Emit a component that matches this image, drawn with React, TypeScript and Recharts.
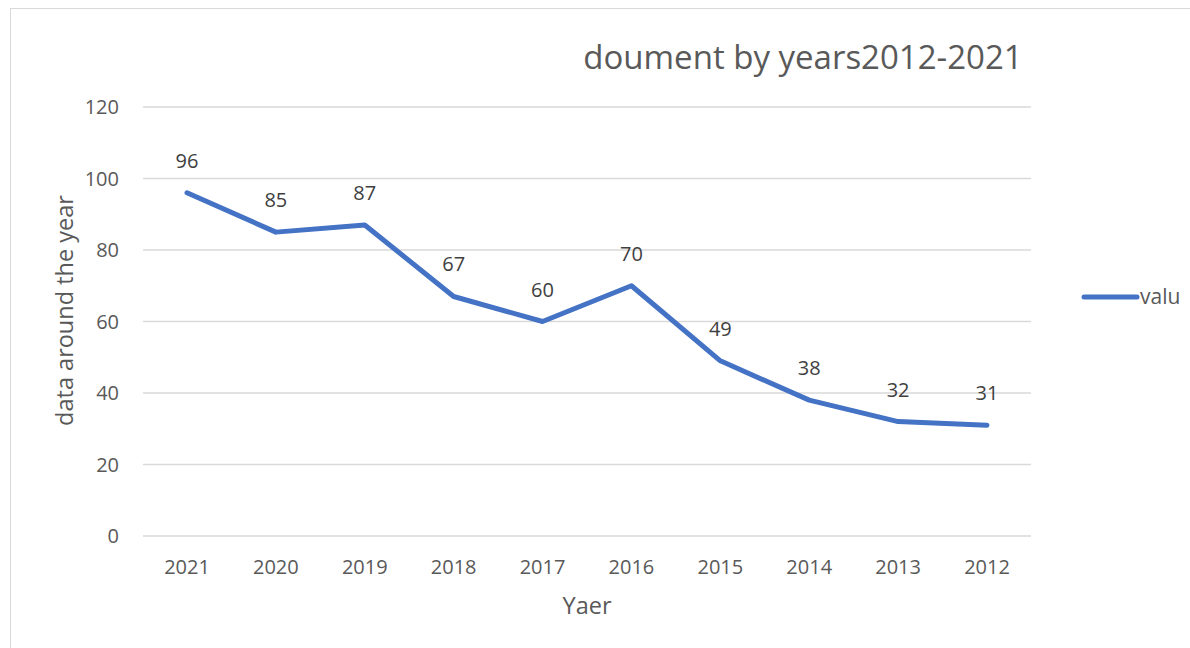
import React from "react";
import { LineChart, Line, XAxis, YAxis, CartesianGrid, LabelList, Legend } from "recharts";

const years = ["2021", "2020", "2019", "2018", "2017", "2016", "2015", "2014", "2013", "2012"];
const values = [96, 85, 87, 67, 60, 70, 49, 38, 32, 31];
const yTicks = [0, 20, 40, 60, 80, 100, 120];
const seriesName = "valu";
const title = "doument by years2012-2021";
const xTitle = "Yaer";
const yTitle = "data around the year";

const data = years.map((y, i) => ({ year: y, valu: values[i] }));

const FONT = "'Open Sans', 'Noto Sans', sans-serif";
const TXT = "#595959";
const BLUE = "#4472C4";

const LegendContent = () => (
  <svg width={104} height={28} style={{ overflow: "visible" }}>
    <line x1={3} y1={13} x2={56} y2={13} stroke={BLUE} strokeWidth={5} strokeLinecap="round" />
    <text x={59} y={20} fill={TXT} fontSize={21} fontFamily={FONT}>{seriesName}</text>
  </svg>
);

export default function App() {
  return (
    <div style={{ position: "fixed", left: 0, top: 0, width: 1190, height: 648, background: "#fff", overflow: "hidden" }}>
      <div style={{ position: "absolute", left: 10, top: 8, width: 1200, height: 700, border: "1.5px solid #D9D9D9", boxSizing: "border-box" }} />
      <div style={{ position: "absolute", left: 0, top: 35, width: 1606, textAlign: "center", fontFamily: FONT, fontSize: 33, lineHeight: "44px", color: TXT, whiteSpace: "nowrap" }}>{title}</div>
      <div style={{ position: "absolute", left: 0, top: 0 }}>
        <LineChart width={1190} height={648} data={data} margin={{ top: 107, right: 49, bottom: 0, left: 0 }}>
          <CartesianGrid vertical={false} stroke="#D9D9D9" strokeWidth={1.5} />
          <XAxis
            dataKey="year"
            axisLine={false}
            tickLine={false}
            tickSize={0}
            tickMargin={24}
            padding={{ left: 44, right: 44 }}
            tick={{ fill: TXT, fontSize: 20, fontFamily: FONT }}
            height={112}
            label={{ value: xTitle, position: "insideTop", dy: 56, fill: TXT, fontSize: 23.5, fontFamily: FONT }}
          />
          <YAxis
            domain={[0, 120]}
            ticks={yTicks}
            width={143}
            axisLine={false}
            tickLine={false}
            tickSize={0}
            tickMargin={24}
            tick={{ fill: TXT, fontSize: 20, fontFamily: FONT }}
            label={{ value: yTitle, angle: -90, position: "center", dx: -7, dy: -11, fill: TXT, fontSize: 23.5, fontFamily: FONT }}
          />
          <Legend layout="vertical" align="right" verticalAlign="top" wrapperStyle={{ left: 1081, top: 284, width: 110 }} content={<LegendContent />} />
          <Line
            type="linear"
            dataKey="valu"
            name={seriesName}
            stroke={BLUE}
            strokeWidth={5}
            strokeLinecap="round"
            strokeLinejoin="round"
            dot={false}
            activeDot={false}
            isAnimationActive={false}
          >
            <LabelList dataKey="valu" position="top" offset={25} fill="#404040" fontSize={20} fontFamily={FONT} />
          </Line>
        </LineChart>
      </div>
    </div>
  );
}
